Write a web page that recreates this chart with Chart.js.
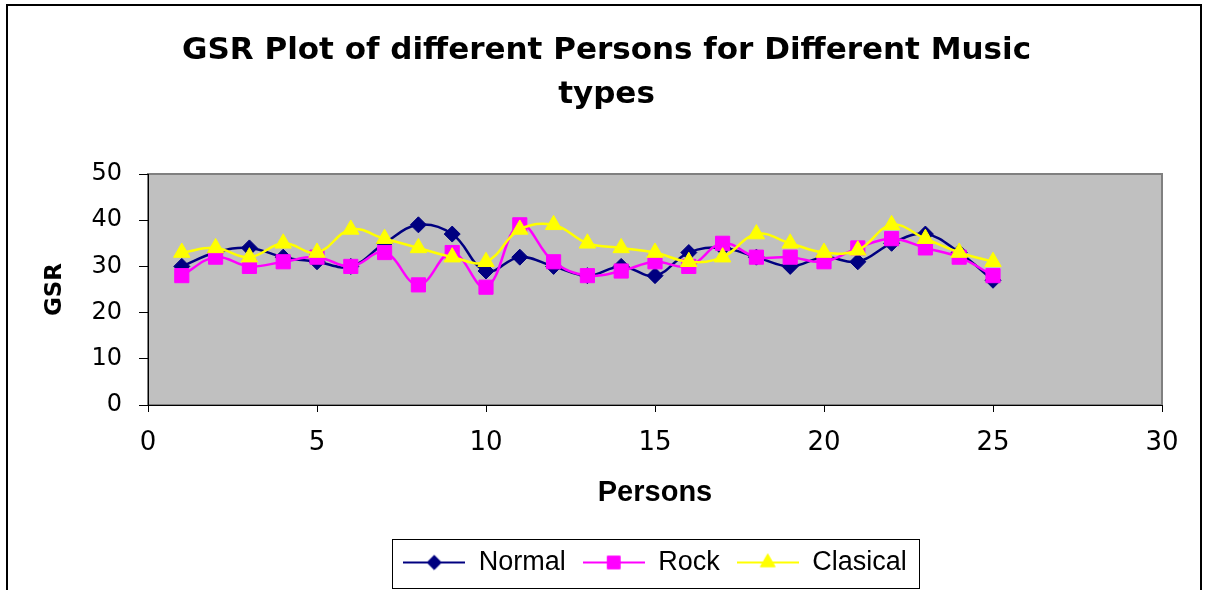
<!DOCTYPE html>
<html><head><meta charset="utf-8">
<script src="https://cdn.jsdelivr.net/npm/chart.js@4.4.0/dist/chart.umd.min.js"></script>
<style>html,body{margin:0;padding:0;background:#fff;overflow:hidden;}</style>
</head><body>
<canvas id="c" width="1207" height="590"></canvas>
<script>
const persons = [1,2,3,4,5,6,7,8,9,10,11,12,13,14,15,16,17,18,19,20,21,22,23,24,25];
const normal   = [30,33,34,32,31,30,35,39,37,29,32,30,28,30,28,33,34,32,30,32,31,35,37,33,27];
const rock     = [28,32,30,31,32,30,33,26,33,25.5,39,31,28,29,31,30,35,32,32,31,34,36,34,32,28];
const clasical = [33,34,32,35,33,38,36,34,32,31,38,39,35,34,33,31,32,37,35,33,33.5,39,36,33,31];
const seriesNames = ['Normal','Rock','Clasical'];
const titleLines = ['GSR Plot of different Persons for Different Music','types'];
const xAxisTitle = 'Persons';
const yAxisTitle = 'GSR';
const xTicks = [0,5,10,15,20,25,30];
const yTicks = [0,10,20,30,40,50];

const colors = ['#000080','#FF00FF','#FFFF00'];
const styles = ['rectRot','rect','triangle'];
const radii = [8,10,9.5];

function legendImage(i){
  const c = document.createElement('canvas');
  c.width = 62; c.height = 26;
  const ctx = c.getContext('2d');
  ctx.strokeStyle = colors[i]; ctx.lineWidth = 2;
  ctx.beginPath(); ctx.moveTo(0,13); ctx.lineTo(62,13); ctx.stroke();
  ctx.fillStyle = colors[i]; ctx.strokeStyle = colors[i]; ctx.lineWidth = 1;
  Chart.helpers.drawPoint(ctx, {pointStyle: styles[i], rotation: 0, borderWidth: 1, radius: radii[i]*0.9}, 31, 13);
  return c;
}

const seriesValues = [normal, rock, clasical];
const datasets = seriesValues.map((vals, i) => ({
  label: seriesNames[i],
  data: persons.map((p, k) => ({x: p, y: vals[k]})),
  borderColor: colors[i],
  backgroundColor: colors[i],
  borderWidth: 2.5,
  pointStyle: styles[i],
  pointRadius: radii[i],
  pointBorderWidth: 1,
  pointBorderColor: colors[i],
  pointBackgroundColor: colors[i],
  tension: 0.4,
  showLine: true,
  order: 3 - i,
  xAxisID: 'x',
  yAxisID: 'y'
}));

const frame = {
  id: 'frame',
  beforeDraw(chart){
    const {ctx, chartArea: a} = chart;
    ctx.save();
    ctx.fillStyle = '#fff';
    ctx.fillRect(0,0,chart.width,chart.height);
    ctx.strokeStyle = '#000'; ctx.lineWidth = 2;
    ctx.strokeRect(7, 5, 1194, 600);
    ctx.fillStyle = '#C0C0C0';
    ctx.fillRect(a.left, a.top, a.right - a.left, a.bottom - a.top);
    ctx.strokeStyle = '#808080'; ctx.lineWidth = 2;
    ctx.strokeRect(a.left, a.top, a.right - a.left, a.bottom - a.top);
    ctx.restore();
  },
  afterDraw(chart){
    const lg = chart.legend;
    if (!lg || !lg.legendHitBoxes || !lg.legendHitBoxes.length) return;
    const hb = lg.legendHitBoxes;
    const first = hb[0], last = hb[hb.length-1];
    const cy = first.top + first.height/2;
    const ctx = chart.ctx;
    ctx.save();
    ctx.strokeStyle = '#000'; ctx.lineWidth = 1;
    ctx.strokeRect(Math.round(first.left - 11) + 0.5, Math.round(cy - 24) + 0.5, Math.round(last.left + last.width + 12 - (first.left - 11)), 49);
    ctx.restore();
  }
};

new Chart(document.getElementById('c'), {
  type: 'scatter',
  data: {datasets},
  plugins: [frame],
  options: {
    responsive: false,
    animation: false,
    layout: {padding: {left: 6, right: 0, top: 10, bottom: 4}},
    plugins: {
      tooltip: {enabled: false},
      title: {
        display: true,
        text: titleLines,
        color: '#000',
        font: {family: 'DejaVu Sans', size: 31, weight: 'bold', lineHeight: 44/31},
        padding: {top: 19, bottom: 57}
      },
      legend: {
        display: true,
        position: 'bottom',
        fullSize: false,
        labels: {
          color: '#000',
          font: {family: 'Liberation Sans', size: 27},
          usePointStyle: true,
          pointStyleWidth: 62,
          padding: 17,
          sort: (a, b) => a.datasetIndex - b.datasetIndex,
          generateLabels: (chart) => chart.data.datasets.map((d, i) => ({
            text: d.label, datasetIndex: i, pointStyle: legendImage(i),
            fillStyle: colors[i], strokeStyle: colors[i], lineWidth: 0, hidden: false, fontColor: '#000'
          }))
        }
      }
    },
    scales: {
      x: {
        type: 'linear', position: 'bottom',
        min: xTicks[0], max: xTicks[xTicks.length-1],
        afterBuildTicks: s => { s.ticks = xTicks.map(v => ({value: v})); },
        afterFit: s => { s.height = 127; },
        grid: {display: true, drawOnChartArea: false, drawTicks: true, tickLength: 7, color: '#000'},
        border: {display: true, color: '#000', width: 1},
        ticks: {color: '#000', font: {family: 'DejaVu Sans', size: 26}, padding: 16, maxRotation: 0},
        title: {display: true, text: xAxisTitle, color: '#000', font: {family: 'Liberation Sans', size: 29, weight: 'bold'}, padding: {top: 0, bottom: 22}}
      },
      y: {
        type: 'linear', position: 'left',
        min: yTicks[0], max: yTicks[yTicks.length-1],
        afterBuildTicks: s => { s.ticks = yTicks.map(v => ({value: v})); },
        afterFit: s => { s.width = 142; },
        grid: {display: true, drawOnChartArea: false, drawTicks: true, tickLength: 9, color: '#000'},
        border: {display: true, color: '#000', width: 1},
        ticks: {color: '#000', font: {family: 'DejaVu Sans', size: 24}, padding: 17},
        title: {display: true, text: yAxisTitle, color: '#000', font: {family: 'DejaVu Sans', size: 23, weight: 'bold'}, padding: {top: 35, bottom: 0}}
      },
      yR: {
        type: 'linear', position: 'right', display: true,
        grid: {display: false}, border: {display: false}, ticks: {display: false},
        afterFit: s => { s.width = 45; }
      }
    }
  }
});
</script>
</body></html>
